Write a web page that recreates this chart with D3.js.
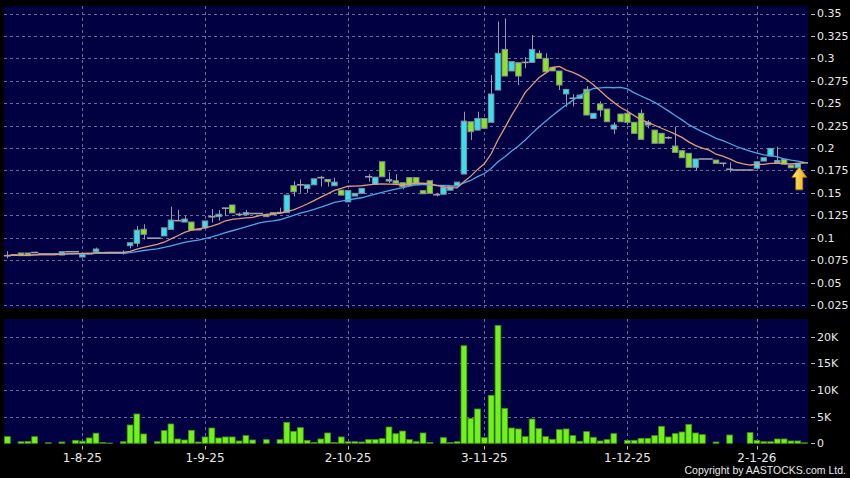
<!DOCTYPE html>
<html>
<head>
<meta charset="utf-8">
<script src="https://cdn.jsdelivr.net/npm/d3@7"></script>
<style>
  body { margin: 0; background: #000; }
  svg { display: block; }
  text { font-family: "DejaVu Sans", Verdana, sans-serif; fill: #e8e8e8; }
</style>
</head>
<body>
<div id="chart"></div>
<script>
// daily candles
var opens = [
  .080,.081,.083,.083,.0835,.082,.082,.082,.0807,.0844,
  .0844,.0785,.0822,.0844,.0833,.0833,.0833,.0833,.0911,.0938,
  .1094,.0995,.0995,.102,.1094,.119,.1175,.1175,.109,.111,
  .1234,.1236,.133,.1365,.126,.1256,.127,.127,.1255,.128,
  .128,.128,.158,.159,.155,.159,.167,.165,.158,.153,
  .140,.1465,.1495,.168,.1595,.1847,.1632,.1635,.1613,.167,
  .167,.1525,.1635,.148,.1485,.153,.158,.171,.2293,.220,
  .233,.2287,.2647,.310,.2859,.2951,.2955,.2955,.3056,.300,
  .290,.2859,.2603,.2555,.2554,.2655,.2331,.2491,.2435,.2212,
  .2379,.2387,.2287,.2387,.2257,.220,.2164,.2115,.2022,.197,
  .1941,.1785,.1878,.1878,.1866,.183,.1763,.1755,.1755,.1755,
  .1775,.1855,.191,.1835,.1875,.181,.178,.1835
];
var highs = [
  .085,.081,.083,.083,.0835,.082,.082,.082,.0844,.0844,
  .0844,.0818,.0822,.089,.0833,.0833,.0833,.086,.0944,.113,
  .115,.0995,.0995,.111,.1346,.131,.124,.1175,.109,.1187,
  .132,.131,.133,.1365,.128,.131,.127,.127,.1255,.128,
  .1335,.1475,.163,.165,.159,.1657,.169,.165,.167,.153,
  .1525,.1495,.155,.171,.1675,.1847,.173,.171,.1613,.167,
  .167,.1525,.1635,.150,.156,.157,.162,.2405,.2293,.2405,
  .233,.2814,.3409,.3447,.2963,.2951,.3014,.326,.309,.3056,
  .290,.2859,.2654,.260,.259,.269,.2387,.252,.2435,.2285,
  .2379,.241,.2287,.243,.231,.220,.2164,.213,.2238,.197,
  .1941,.1878,.1878,.1878,.1866,.183,.184,.1755,.1755,.1755,
  .1847,.1892,.1996,.2015,.1875,.181,.183,.1835
];
var lows = [
  .077,.081,.080,.080,.0835,.082,.082,.082,.0807,.0844,
  .0844,.0785,.0822,.0844,.0833,.0833,.0833,.081,.088,.090,
  .098,.0995,.0995,.102,.1094,.119,.1175,.1083,.109,.111,
  .117,.119,.124,.1277,.124,.1256,.127,.127,.1235,.1255,
  .128,.128,.146,.150,.150,.159,.157,.157,.158,.1475,
  .140,.1465,.1495,.1625,.1595,.168,.161,.1607,.154,.158,
  .159,.149,.1495,.146,.1485,.153,.158,.171,.209,.220,
  .222,.2287,.2647,.2803,.2859,.2703,.2889,.2955,.300,.285,
  .286,.2647,.246,.2465,.2554,.2368,.2331,.235,.2293,.2155,
  .2293,.226,.2164,.2097,.222,.2053,.2053,.210,.1952,.1892,
  .1785,.1747,.1878,.1878,.183,.179,.173,.1755,.1755,.1755,
  .1775,.1855,.191,.1835,.182,.178,.178,.1835
];
var closes = [
  .080,.081,.080,.080,.0835,.082,.082,.082,.0844,.0844,
  .0844,.0818,.0822,.0874,.0833,.0833,.0833,.0833,.0944,.1085,
  .1038,.0995,.0995,.111,.1197,.119,.1208,.1083,.109,.1187,
  .1234,.1262,.133,.1277,.126,.128,.127,.127,.1235,.1255,
  .128,.1475,.1513,.159,.159,.1657,.167,.1625,.162,.1475,
  .1525,.1495,.155,.168,.1675,.168,.165,.1607,.157,.158,
  .159,.149,.1495,.148,.156,.157,.162,.230,.2182,.233,
  .222,.2602,.3056,.2803,.2963,.2803,.2955,.310,.300,.285,
  .286,.2703,.2654,.2555,.259,.2368,.2387,.2424,.2293,.2257,
  .2293,.2287,.2164,.2097,.2287,.2053,.2053,.2115,.1952,.1892,
  .1785,.1878,.1878,.1878,.183,.183,.1763,.1755,.1755,.1755,
  .1847,.1892,.1996,.186,.182,.178,.183,.1835
];
var volumes = [
  1250,0,300,350,1250,0,100,0,250,0,
  560,400,1000,1900,150,50,0,300,3440,5500,
  1750,0,300,2375,3625,810,625,2440,250,1190,
  2870,1000,1190,1190,440,1440,625,0,690,0,
  690,3940,2250,2940,560,150,810,1940,150,1190,
  300,300,250,690,690,880,3060,1800,2300,690,
  300,1940,150,0,1060,150,300,18300,4690,6440,
  1060,9000,22125,6560,2870,2690,1250,4560,2750,1250,
  750,2560,2690,1440,375,2190,1130,440,690,1815,
  0,560,560,940,940,1440,3190,1190,1815,2125,
  3560,1940,1630,0,250,0,1560,0,0,2000,
  560,300,300,810,810,440,440,100
];

var dateLabels = ["1-8-25", "1-9-25", "2-10-25", "3-11-25", "1-12-25", "2-1-26"];
var dateIndex = [11, 29, 50, 70, 91, 110];
var priceTicks = [0.025, 0.05, 0.075, 0.1, 0.125, 0.15, 0.175, 0.2, 0.225, 0.25, 0.275, 0.3, 0.325, 0.35];
var volTicks = [0, 5000, 10000, 15000, 20000];
var volLabels = ["0", "5K", "10K", "15K", "20K"];

var width = 850, height = 478;
var left = 4, right = 808;
var priceTop = 6, priceBottom = 308;
var volTop = 319, volBottom = 443.5;

var svg = d3.select("#chart").append("svg")
    .attr("width", width)
    .attr("height", height);

svg.append("rect").attr("width", width).attr("height", height).attr("fill", "#000");

var x = d3.scaleBand()
    .domain(d3.range(closes.length))
    .range([left, right])
    .paddingInner(0);
var step = x.step();
var cx = function (i) { return x(i) + step / 2; };

var y = d3.scaleLinear().domain([0.025, 0.35]).range([305, 13.5]);
var yv = d3.scaleLinear().domain([0, 20000]).range([443.3, 336.7]);

// moving averages on the closes
function movingAvg(n) {
    return closes.map(function (c, i) {
        return d3.mean(closes.slice(Math.max(0, i - n + 1), i + 1));
    });
}
var ma10 = movingAvg(10);
var ma20 = movingAvg(20);

// panels
svg.append("rect").attr("x", left).attr("y", priceTop)
    .attr("width", right - left).attr("height", priceBottom - priceTop).attr("fill", "#000042");
svg.append("rect").attr("x", left).attr("y", volTop)
    .attr("width", right - left).attr("height", volBottom - volTop).attr("fill", "#000042");

var gridColor = "#6a6a9c";

// horizontal grid
svg.append("g").selectAll("line").data(priceTicks).enter().append("line")
    .attr("x1", left).attr("x2", right)
    .attr("y1", function (d) { return Math.round(y(d)) + 0.5; })
    .attr("y2", function (d) { return Math.round(y(d)) + 0.5; })
    .attr("stroke", gridColor).attr("stroke-dasharray", "3,3");
svg.append("g").selectAll("line").data(volTicks.slice(1)).enter().append("line")
    .attr("x1", left).attr("x2", right)
    .attr("y1", function (d) { return Math.round(yv(d)) + 0.5; })
    .attr("y2", function (d) { return Math.round(yv(d)) + 0.5; })
    .attr("stroke", gridColor).attr("stroke-dasharray", "3,3");

// vertical grid
dateIndex.forEach(function (i) {
    var gx = Math.round(cx(i)) + 0.5;
    svg.append("line").attr("x1", gx).attr("x2", gx).attr("y1", priceTop).attr("y2", priceBottom)
        .attr("stroke", gridColor).attr("stroke-dasharray", "3,3");
    svg.append("line").attr("x1", gx).attr("x2", gx).attr("y1", volTop).attr("y2", volBottom)
        .attr("stroke", gridColor).attr("stroke-dasharray", "3,3");
});

// candles
var bodyW = 5.4;
var candles = svg.append("g").selectAll("g").data(closes).enter().append("g");

candles.append("line")
    .attr("x1", function (d, i) { return Math.round(cx(i)) + 0.5; })
    .attr("x2", function (d, i) { return Math.round(cx(i)) + 0.5; })
    .attr("y1", function (d, i) { return y(highs[i]); })
    .attr("y2", function (d, i) { return y(lows[i]); })
    .attr("stroke", "#9a9aa6").attr("stroke-width", 1);

candles.append("rect")
    .attr("x", function (d, i) { return cx(i) - bodyW / 2; })
    .attr("y", function (d, i) { return y(Math.max(opens[i], closes[i])); })
    .attr("width", bodyW)
    .attr("height", function (d, i) { return Math.max(0.01, Math.abs(y(opens[i]) - y(closes[i]))); })
    .attr("fill", function (d, i) {
        if (opens[i] == closes[i]) return "none";
        return closes[i] > opens[i] ? "#30e2f2" : "#86e822";
    })
    .attr("stroke", function (d, i) { return opens[i] == closes[i] ? "#a0a0a8" : "#8c9096"; })
    .attr("stroke-width", function (d, i) { return opens[i] == closes[i] ? 1.6 : 1; });

// moving average lines
var line = d3.line()
    .x(function (d, i) { return cx(i); })
    .y(function (d) { return y(d); });
svg.append("path").attr("d", line(ma20)).attr("fill", "none")
    .attr("stroke", "#4aa6e6").attr("stroke-width", 1.3);
svg.append("path").attr("d", line(ma10)).attr("fill", "none")
    .attr("stroke", "#e49a78").attr("stroke-width", 1.3);

// volume bars
svg.append("g").selectAll("rect").data(volumes).enter().append("rect")
    .attr("x", function (d, i) { return cx(i) - 2.9; })
    .attr("y", function (d) { return yv(d); })
    .attr("width", 5.8)
    .attr("height", function (d) { return yv(0) - yv(d); })
    .attr("fill", "#72f21c")
    .attr("stroke", function (d) { return d > 0 ? "#3f8f12" : "none"; })
    .attr("stroke-width", 0.8);

// right axes
var axisG = svg.append("g");
priceTicks.forEach(function (t) {
    axisG.append("line").attr("x1", 811).attr("x2", 815)
        .attr("y1", Math.round(y(t)) + 0.5).attr("y2", Math.round(y(t)) + 0.5)
        .attr("stroke", "#bbbbbb");
    axisG.append("text").attr("x", 817).attr("y", y(t)).attr("dy", "0.36em")
        .style("font-size", "11px").text(String(+t.toFixed(3)));
});
volTicks.forEach(function (t, k) {
    axisG.append("line").attr("x1", 811).attr("x2", 815)
        .attr("y1", Math.round(yv(t)) + 0.5).attr("y2", Math.round(yv(t)) + 0.5)
        .attr("stroke", "#bbbbbb");
    axisG.append("text").attr("x", 817).attr("y", yv(t)).attr("dy", "0.36em")
        .style("font-size", "11px").text(volLabels[k]);
});

// date axis
dateIndex.forEach(function (i, k) {
    var tx = Math.round(cx(i)) + 0.5;
    axisG.append("line").attr("x1", tx).attr("x2", tx).attr("y1", 446).attr("y2", 449.5)
        .attr("stroke", "#bbbbbb");
    axisG.append("text").attr("x", cx(i)).attr("y", 462)
        .attr("text-anchor", "middle").style("font-size", "12px").text(dateLabels[k]);
});

svg.append("text").attr("x", 846).attr("y", 474).attr("text-anchor", "end")
    .style("font-family", "'Liberation Sans', Arial, sans-serif")
    .style("font-size", "10.5px")
    .text("Copyright by AASTOCKS.com Ltd.");

// yellow marker arrow under the latest candle
var defs = svg.append("defs");
var grad = defs.append("linearGradient").attr("id", "arrowGrad")
    .attr("x1", "0%").attr("x2", "100%").attr("y1", "0%").attr("y2", "0%");
grad.append("stop").attr("offset", "0%").attr("stop-color", "#fff27a");
grad.append("stop").attr("offset", "100%").attr("stop-color", "#e9a40e");

var last = closes.length - 1;
var ax = cx(last - 1) + 1.5;
var ay = y(closes[last]) + 4;
svg.append("path")
    .attr("d", "M" + ax + "," + ay +
        " L" + (ax + 7.5) + "," + (ay + 10.5) +
        " L" + (ax + 3.5) + "," + (ay + 10.5) +
        " L" + (ax + 3.5) + "," + (ay + 23) +
        " L" + (ax - 3.5) + "," + (ay + 23) +
        " L" + (ax - 3.5) + "," + (ay + 10.5) +
        " L" + (ax - 7.5) + "," + (ay + 10.5) + " Z")
    .attr("fill", "url(#arrowGrad)")
    .attr("stroke", "#b07a08").attr("stroke-width", 0.8);
</script>
</body>
</html>
